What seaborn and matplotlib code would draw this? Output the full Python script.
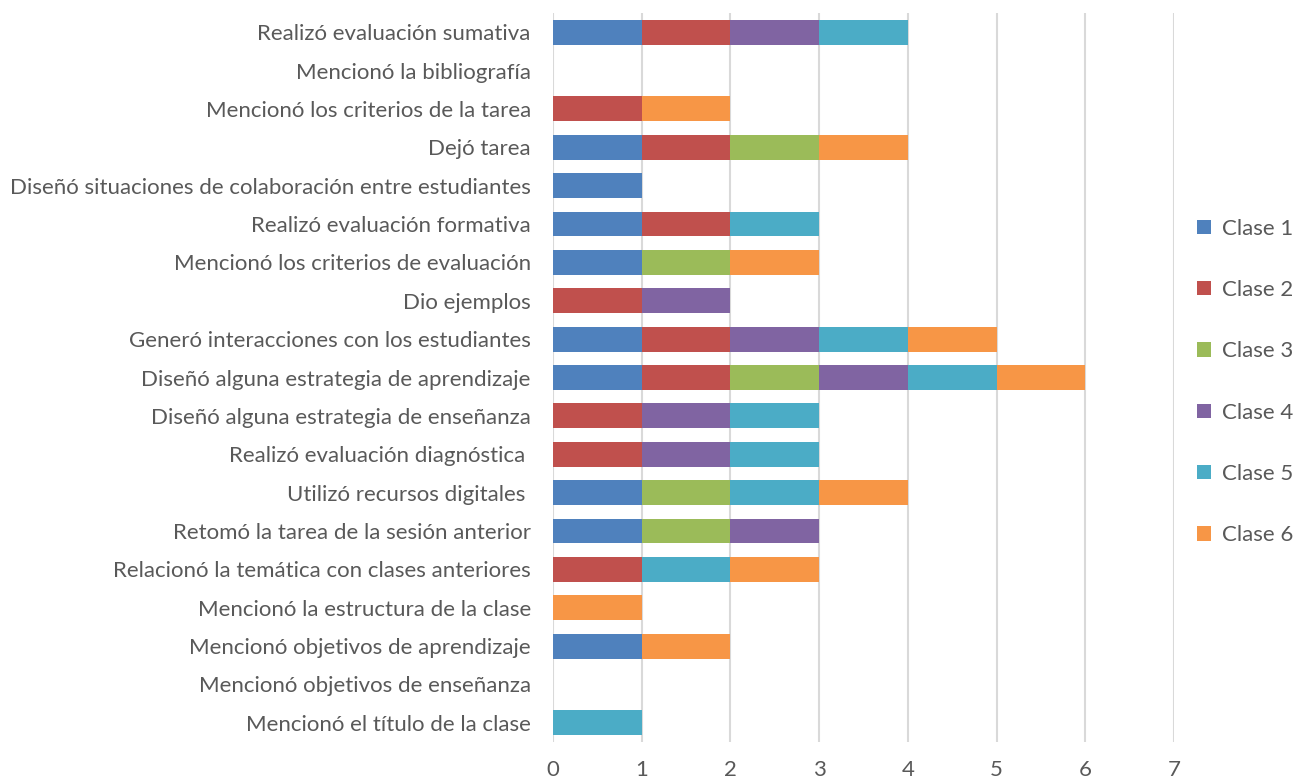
import matplotlib
matplotlib.use("Agg")
import matplotlib.pyplot as plt
import seaborn as sns
import numpy as np
import pandas as pd
from matplotlib.patches import Patch

categories = [
    "Realizó evaluación sumativa",
    "Mencionó la bibliografía",
    "Mencionó los criterios de la tarea",
    "Dejó tarea",
    "Diseñó situaciones de colaboración entre estudiantes",
    "Realizó evaluación formativa",
    "Mencionó los criterios de evaluación",
    "Dio ejemplos",
    "Generó interacciones con los estudiantes",
    "Diseñó alguna estrategia de aprendizaje",
    "Diseñó alguna estrategia de enseñanza",
    "Realizó evaluación diagnóstica ",
    "Utilizó recursos digitales ",
    "Retomó la tarea de la sesión anterior",
    "Relacionó la temática con clases anteriores",
    "Mencionó la estructura de la clase",
    "Mencionó objetivos de aprendizaje",
    "Mencionó objetivos de enseñanza",
    "Mencionó el título de la clase",
]
series_names = ["Clase 1", "Clase 2", "Clase 3", "Clase 4", "Clase 5", "Clase 6"]
clase1 = [1, 0, 0, 1, 1, 1, 1, 0, 1, 1, 0, 0, 1, 1, 0, 0, 1, 0, 0]
clase2 = [1, 0, 1, 1, 0, 1, 0, 1, 1, 1, 1, 1, 0, 0, 1, 0, 0, 0, 0]
clase3 = [0, 0, 0, 1, 0, 0, 1, 0, 0, 1, 0, 0, 1, 1, 0, 0, 0, 0, 0]
clase4 = [1, 0, 0, 0, 0, 0, 0, 1, 1, 1, 1, 1, 0, 1, 0, 0, 0, 0, 0]
clase5 = [1, 0, 0, 0, 0, 1, 0, 0, 1, 1, 1, 1, 1, 0, 1, 0, 0, 0, 1]
clase6 = [0, 0, 1, 1, 0, 0, 1, 0, 1, 1, 0, 0, 1, 0, 1, 1, 1, 0, 0]
colors = ["#4F81BD", "#C0504D", "#9BBB59", "#8064A2", "#4BACC6", "#F79646"]
x_ticks = [0, 1, 2, 3, 4, 5, 6, 7]

sns.set_theme(style="white")
plt.rcParams["font.family"] = ["Lato", "DejaVu Sans"]

data = np.array([clase1, clase2, clase3, clase4, clase5, clase6], dtype=float)
cum = np.cumsum(data, axis=0)

fig = plt.figure(figsize=(12.93, 7.82), dpi=100)
ax = fig.add_axes([553 / 1293, 40 / 782, (1174 - 553) / 1293, (742 - 13) / 782])

for i in range(len(series_names) - 1, -1, -1):
    df = pd.DataFrame({"cat": categories, "val": cum[i]})
    sns.barplot(data=df, x="val", y="cat", order=categories, orient="h",
                color=colors[i], width=0.65, saturation=1, ax=ax,
                linewidth=0, zorder=3)

ax.set_xlim(0, 7)
ax.set_ylim(18.5, -0.5)
ax.set_xticks(x_ticks)
ax.set_xlabel("")
ax.set_ylabel("")
ax.grid(axis="x", color="#D9D9D9", linewidth=1.5, zorder=0)
ax.grid(axis="y", visible=False)
for s in ax.spines.values():
    s.set_visible(False)
ax.tick_params(axis="both", length=0, labelsize=16, colors="#595959")
ax.tick_params(axis="y", pad=16)
ax.tick_params(axis="x", pad=13)

handles = [Patch(facecolor=c, edgecolor="none") for c in colors]
leg = fig.legend(handles, series_names, loc="center left",
                 bbox_to_anchor=(1197 / 1293, (782 - 382) / 782),
                 frameon=False, fontsize=16, labelcolor="#595959",
                 handlelength=0.63, handleheight=0.63, handletextpad=0.5,
                 labelspacing=1.86, borderpad=0, borderaxespad=0)

fig.savefig("out.png", dpi=100)
